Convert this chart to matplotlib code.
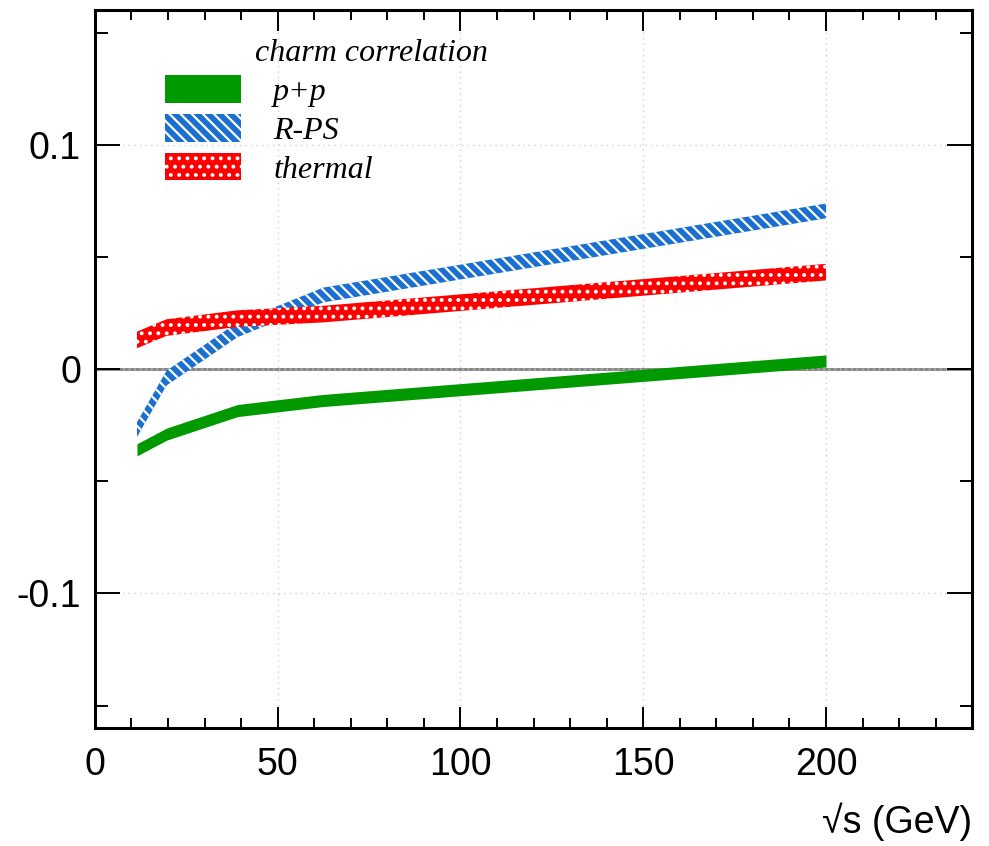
import numpy as np
import matplotlib
matplotlib.use("Agg")
import matplotlib.pyplot as plt
from matplotlib.ticker import MultipleLocator

plt.rcParams['font.family'] = ['Liberation Sans', 'DejaVu Sans']
plt.rcParams['hatch.linewidth'] = 1.6

# energies (GeV) and band centres / half widths
sqrt_s = [11.5, 19.6, 39.0, 62.4, 200.0]

pp_mid = [-0.036, -0.029, -0.0185, -0.014, 0.0036]
pp_half = 0.0027

rps_mid = [-0.027, -0.004, 0.0175, 0.033, 0.0705]
rps_half = 0.0033

th_mid = [0.013, 0.0185, 0.0225, 0.0245, 0.0432]
th_half = 0.0037

labels = ["p+p", "R-PS", "thermal"]
legend_title = "charm correlation"

x = np.array(sqrt_s)

fig = plt.figure(figsize=(9.89, 8.46), dpi=100)
ax = fig.add_axes([0.096, 0.1395, 0.887, 0.8485])

ax.axhline(0, color='#808080', lw=2.0, zorder=1)

h1 = ax.fill_between(x, np.array(pp_mid) - pp_half, np.array(pp_mid) + pp_half,
                     facecolor='#009900', edgecolor='#009900', lw=0, zorder=3)
h2 = ax.fill_between(x, np.array(rps_mid) - rps_half, np.array(rps_mid) + rps_half,
                     facecolor='#1a6fd0', edgecolor='white', lw=0, hatch='\\\\\\',
                     zorder=3)
h3 = ax.fill_between(x, np.array(th_mid) - th_half, np.array(th_mid) + th_half,
                     facecolor='#ff0000', edgecolor='white', lw=0, hatch='..',
                     zorder=3)

ax.set_xlim(0, 240)
ax.set_ylim(-0.16, 0.16)
ax.xaxis.set_major_locator(MultipleLocator(50))
ax.xaxis.set_minor_locator(MultipleLocator(10))
ax.yaxis.set_major_locator(MultipleLocator(0.1))
ax.yaxis.set_minor_locator(MultipleLocator(0.05))
ax.set_xticks([0, 50, 100, 150, 200])
ax.set_xticklabels(['0', '50', '100', '150', '200'])
ax.set_yticks([-0.1, 0, 0.1])
ax.set_yticklabels(['-0.1', '0', '0.1'])

ax.grid(True, which='major', color='#d0d0d0', ls=(0, (1, 3)), lw=1.0, zorder=0)
for s in ax.spines.values():
    s.set_linewidth(2.2)

ax.tick_params(axis='both', which='both', direction='in', top=True, right=True,
               labelsize=27, width=1.4)
ax.tick_params(axis='y', which='major', length=18, pad=10)
ax.tick_params(axis='y', which='minor', length=9)
ax.tick_params(axis='x', which='major', length=15, pad=14)
ax.tick_params(axis='x', which='minor', length=7.5)

ax.set_xlabel('\u221as (GeV)', fontsize=27, loc='right', labelpad=14)

leg = ax.legend([h1, h2, h3], labels, loc='upper left',
                bbox_to_anchor=(0.065, 0.927), frameon=False,
                prop={'family': 'Liberation Serif', 'style': 'italic', 'size': 23},
                handlelength=2.4, handleheight=0.95, handletextpad=1.0,
                labelspacing=0.22, borderaxespad=0)
ax.text(0.182, 0.94, legend_title, transform=ax.transAxes, ha='left', va='center',
        fontsize=23, family='Liberation Serif', style='italic')

fig.savefig('out.png', dpi=100)
